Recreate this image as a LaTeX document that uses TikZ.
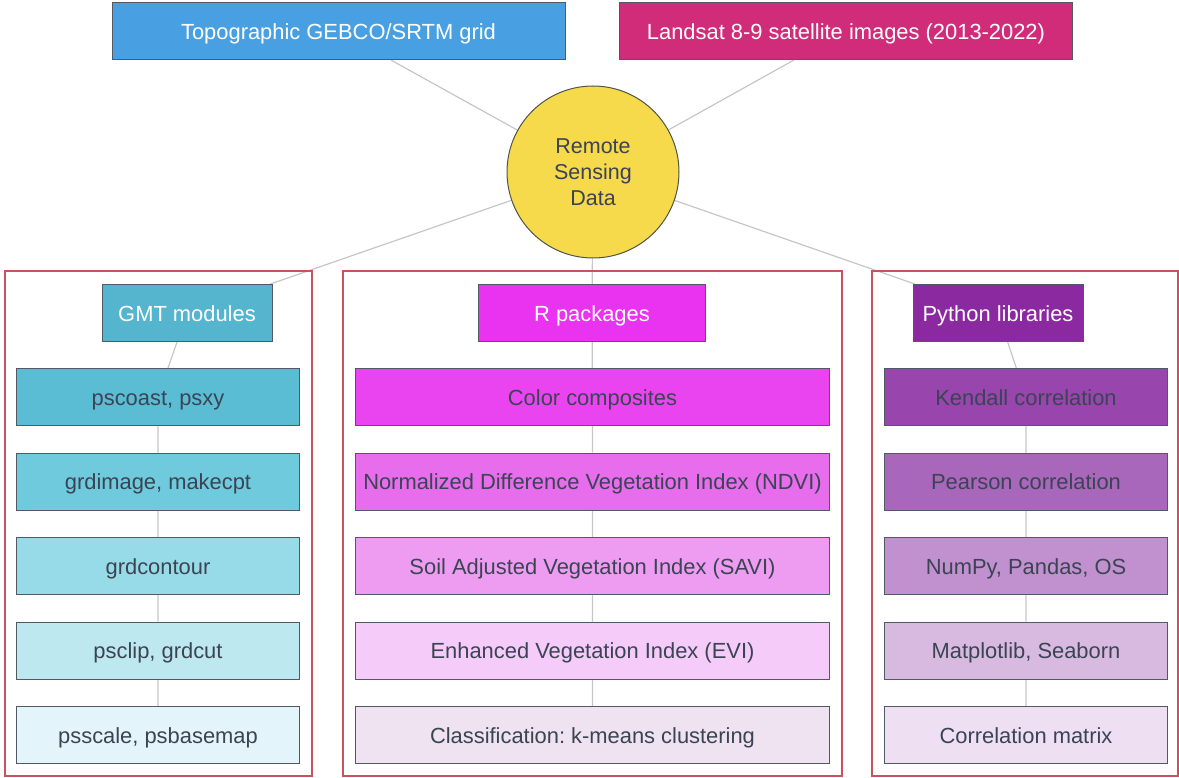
\documentclass[tikz,border=0pt]{standalone}
\usepackage{fontspec}
\setmainfont{Liberation Sans}
\usetikzlibrary{positioning, backgrounds}
\frenchspacing

\definecolor{boxline}{HTML}{515A64}
\definecolor{textdark}{HTML}{3A4452}
\definecolor{linkgray}{HTML}{C6C6C6}
\definecolor{panelred}{HTML}{C8535E}
\definecolor{hubyellow}{HTML}{F7D94C}
\definecolor{hubline}{HTML}{4E5646}
\definecolor{topoblue}{HTML}{48A0E2}
\definecolor{landsatpink}{HTML}{D02C7A}
% GMT column
\definecolor{gmthead}{HTML}{55B5CE}
\definecolor{gmtA}{HTML}{5BBDD4}
\definecolor{gmtB}{HTML}{6FCADD}
\definecolor{gmtC}{HTML}{98DBE8}
\definecolor{gmtD}{HTML}{BEE8EF}
\definecolor{gmtE}{HTML}{E3F5FA}
% R column
\definecolor{rhead}{HTML}{EA33F0}
\definecolor{rA}{HTML}{EA44F0}
\definecolor{rB}{HTML}{E76DED}
\definecolor{rC}{HTML}{EE9CF2}
\definecolor{rD}{HTML}{F5CCF9}
\definecolor{rE}{HTML}{EFE2F1}
% Python column
\definecolor{pyhead}{HTML}{8B2AA0}
\definecolor{pyA}{HTML}{9845AD}
\definecolor{pyB}{HTML}{A867BB}
\definecolor{pyC}{HTML}{C190CF}
\definecolor{pyD}{HTML}{D8BAE1}
\definecolor{pyE}{HTML}{EEE0F2}

\begin{document}
\begin{tikzpicture}[x=1pt, y=-1pt,
      node distance=26.5pt,
      box/.style={draw=boxline, line width=1pt, minimum height=57pt, inner sep=2pt, text height=16.5pt, text depth=0pt, font=\fontsize{21.9}{26}\selectfont},
      srcbox/.style={box, text=white, minimum width=453pt},
      hub/.style={circle, draw=hubline, line width=1pt, fill=hubyellow, minimum size=172pt, align=center, text=textdark, font=\fontsize{21.5}{26}\selectfont},
      panel/.style={draw=panelred, line width=1.2pt},
      head/.style={box, text=white},
      gmtitem/.style={box, text=textdark, minimum width=283pt},
      ritem/.style={box, text=textdark, minimum width=474pt},
      pyitem/.style={box, text=textdark, minimum width=283pt},
      link/.style={draw=linkgray, line width=1.2pt}]
      \useasboundingbox (0,0) rectangle (1179,778);

      \node[srcbox, fill=topoblue] (topo) at (338.5,31) {Topographic GEBCO/SRTM grid};
      \node[srcbox, fill=landsatpink] (landsat) at (846,31) {Landsat 8-9 satellite images (2013-2022)};
      \node[hub] (rsdata) at (593,172) {Remote\\Sensing\\Data};

      \node[panel, minimum width=307pt, minimum height=505pt] (gmtpanel) at (158.5,523.5) {};
      \node[panel, minimum width=499pt, minimum height=505pt] (rpanel) at (592.5,523.5) {};
      \node[panel, minimum width=306pt, minimum height=505pt] (pypanel) at (1025,523.5) {};

      %% GMT modules
      \node[head, fill=gmthead, minimum width=170pt] (gmt) at (187,313) {GMT modules};
      \node[gmtitem, fill=gmtA] (pscoast) at (158,397) {pscoast, psxy};
      \node[gmtitem, fill=gmtB] (grdimage) [below=of pscoast] {grdimage, makecpt};
      \node[gmtitem, fill=gmtC] (grdcontour) [below=of grdimage] {grdcontour};
      \node[gmtitem, fill=gmtD] (psclip) [below=of grdcontour] {psclip, grdcut};
      \node[gmtitem, fill=gmtE] (psscale) [below=of psclip] {psscale, psbasemap};

      %% R packages
      \node[head, fill=rhead, minimum width=227pt] (rpkg) at (592,313) {R packages};
      \node[ritem, fill=rA] (composites) at (592.5,397) {Color composites};
      \node[ritem, fill=rB] (ndvi) [below=of composites] {Normalized Difference Vegetation Index (NDVI)};
      \node[ritem, fill=rC] (savi) [below=of ndvi] {Soil Adjusted Vegetation Index (SAVI)};
      \node[ritem, fill=rD] (evi) [below=of savi] {Enhanced Vegetation Index (EVI)};
      \node[ritem, fill=rE] (kmeans) [below=of evi] {Classification: k-means clustering};

      %% Python libraries
      \node[head, fill=pyhead, minimum width=170pt] (pylib) at (998,313) {Python libraries};
      \node[pyitem, fill=pyA] (kendall) at (1026,397) {Kendall correlation};
      \node[pyitem, fill=pyB] (pearson) [below=of kendall] {Pearson correlation};
      \node[pyitem, fill=pyC] (numpy) [below=of pearson] {NumPy, Pandas, OS};
      \node[pyitem, fill=pyD] (matplotlib) [below=of numpy] {Matplotlib, Seaborn};
      \node[pyitem, fill=pyE] (corrmatrix) [below=of matplotlib] {Correlation matrix};

      \begin{scope}[on background layer]
        \draw[link] (topo) -- (rsdata);
        \draw[link] (landsat) -- (rsdata);
        \draw[link] (rsdata) -- (gmt);
        \draw[link] (rsdata) -- (rpkg);
        \draw[link] (rsdata) -- (pylib);
        \draw[link] (gmt) -- (pscoast) -- (grdimage) -- (grdcontour) -- (psclip) -- (psscale);
        \draw[link] (rpkg) -- (composites) -- (ndvi) -- (savi) -- (evi) -- (kmeans);
        \draw[link] (pylib) -- (kendall) -- (pearson) -- (numpy) -- (matplotlib) -- (corrmatrix);
      \end{scope}
\end{tikzpicture}
\end{document}
